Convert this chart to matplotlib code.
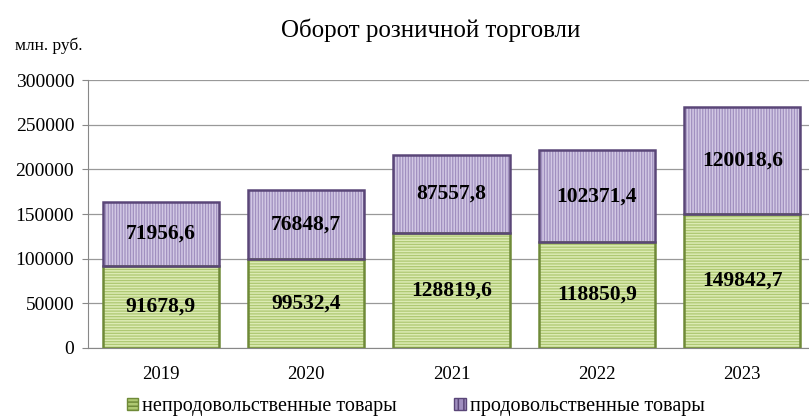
import matplotlib.pyplot as plt
import numpy as np
from matplotlib.patches import Patch

years = ['2019', '2020', '2021', '2022', '2023']
nonfood = [91678.9, 99532.4, 128819.6, 118850.9, 149842.7]
food = [71956.6, 76848.7, 87557.8, 102371.4, 120018.6]
nonfood_labels = ['91678,9', '99532,4', '128819,6', '118850,9', '149842,7']
food_labels = ['71956,6', '76848,7', '87557,8', '102371,4', '120018,6']
yticks = [0, 50000, 100000, 150000, 200000, 250000, 300000]

plt.rcParams['font.family'] = ['Liberation Serif', 'DejaVu Serif']
plt.rcParams['hatch.linewidth'] = 1.1

fig = plt.figure(figsize=(8.09, 4.16), dpi=100)
ax = fig.add_axes([0.1088, 0.1635, 0.8986, 0.644])

x = np.arange(len(years))
w = 0.8

# заливка + штриховка
ax.bar(x, nonfood, w, color='#aec872', hatch='------', edgecolor='#dcebb4', linewidth=0, zorder=2)
ax.bar(x, food, w, bottom=nonfood, color='#a08fbf', hatch='||||||', edgecolor='#d2c8e4', linewidth=0, zorder=2)
# контур
ax.bar(x, nonfood, w, fill=False, edgecolor='#6f8a38', linewidth=1.8, zorder=3)
ax.bar(x, food, w, bottom=nonfood, fill=False, edgecolor='#5a4678', linewidth=1.8, zorder=3)

for i in range(len(years)):
    ax.text(x[i], nonfood[i] / 2, nonfood_labels[i], ha='center', va='center',
            fontsize=15.5, fontweight='bold', zorder=4)
    ax.text(x[i], nonfood[i] + food[i] / 2, food_labels[i], ha='center', va='center',
            fontsize=15.5, fontweight='bold', zorder=4)

ax.set_xlim(-0.5, len(years) - 0.5)
ax.set_ylim(0, 300000)
ax.set_yticks(yticks)
ax.set_yticklabels([str(v) for v in yticks], fontsize=14)
ax.set_xticks(x)
ax.set_xticklabels(years, fontsize=13.5)
ax.tick_params(axis='x', length=0, pad=13)
ax.tick_params(axis='y', length=4, color='#888888', pad=6)
ax.grid(axis='y', color='#999999', linewidth=0.9, zorder=0)
ax.set_axisbelow(True)
for s in ['top', 'right']:
    ax.spines[s].set_visible(False)
ax.spines['left'].set_color('#888888')
ax.spines['bottom'].set_color('#888888')

fig.text(0.532, 0.928, 'Оборот розничной торговли', ha='center', va='center', fontsize=18)
fig.text(0.018, 0.89, 'млн. руб.', ha='left', va='center', fontsize=12.5)

handles = [Patch(facecolor='#aec872', hatch='----', edgecolor='#6f8a38', label='непродовольственные товары'),
           Patch(facecolor='#a08fbf', hatch='|||', edgecolor='#5a4678', label='продовольственные товары')]
fig.legend(handles=handles, loc='center', bbox_to_anchor=(0.514, 0.022), ncol=2, frameon=False,
           fontsize=14.5, handlelength=0.55, handleheight=0.55, handletextpad=0.2, columnspacing=2.85)

plt.savefig('out.png', dpi=100)
